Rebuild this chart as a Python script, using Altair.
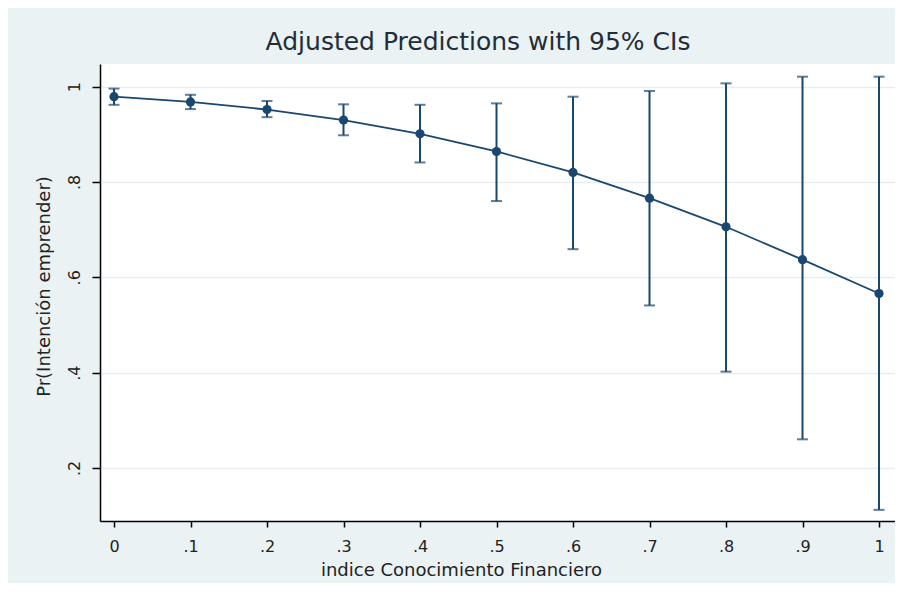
import altair as alt
import pandas as pd

# ---- data ----
x_vals = [0.0, 0.1, 0.2, 0.3, 0.4, 0.5, 0.6, 0.7, 0.8, 0.9, 1.0]
pred = [0.979, 0.968, 0.952, 0.930, 0.901, 0.864, 0.820, 0.766, 0.706, 0.637, 0.566]
ci_lo = [0.962, 0.953, 0.936, 0.898, 0.841, 0.760, 0.659, 0.541, 0.402, 0.260, 0.112]
ci_hi = [0.996, 0.983, 0.970, 0.963, 0.962, 0.965, 0.979, 0.991, 1.007, 1.021, 1.021]

x_ticks = [0.0, 0.1, 0.2, 0.3, 0.4, 0.5, 0.6, 0.7, 0.8, 0.9, 1.0]
x_tick_labels = ["0", ".1", ".2", ".3", ".4", ".5", ".6", ".7", ".8", ".9", "1"]
y_ticks = [0.2, 0.4, 0.6, 0.8, 1.0]
y_tick_labels = [".2", ".4", ".6", ".8", "1"]

title_text = "Adjusted Predictions with 95% CIs"
x_title = "indice Conocimiento Financiero"
y_title = "Pr(Intención emprender)"

df = pd.DataFrame({"x": x_vals, "y": pred, "lo": ci_lo, "hi": ci_hi})


def label_expr(values, labels):
    parts = [f"abs(datum.value - {v}) < 1e-6 ? '{l}'" for v, l in zip(values, labels)]
    return " : ".join(parts) + " : ''"


NAVY = "#1a476f"
FONT = "DejaVu Sans"
W, H = 795, 457

xscale = alt.Scale(domain=[-0.0183, 1.0209], nice=False, zero=False)
yscale = alt.Scale(domain=[0.0886, 1.0476], nice=False, zero=False)

xaxis = alt.Axis(
    values=x_ticks, labelExpr=label_expr(x_ticks, x_tick_labels),
    title=x_title, grid=False, tickSize=6, labelPadding=11,
    labelBaseline="top", labelFontSize=16, titleFontSize=18,
    titleX=361, titleY=54, titleAlign="center", titleBaseline="alphabetic",
    titleFontWeight="normal",
)
yaxis = alt.Axis(
    values=y_ticks, labelExpr=label_expr(y_ticks, y_tick_labels),
    title=y_title, grid=True, gridColor="#E6EEF1", gridWidth=1.5,
    tickSize=8, labelPadding=18, labelAngle=270, labelAlign="center",
    labelBaseline="middle", labelFontSize=16, titleFontSize=18,
    titleAngle=270, titleX=-56, titleY=222, titleAlign="center",
    titleBaseline="middle", titleFontWeight="normal",
)

base = alt.Chart(df)

rules = base.mark_rule(color=NAVY, strokeWidth=2).encode(
    x=alt.X("x:Q", scale=xscale, axis=xaxis),
    y=alt.Y("lo:Q", scale=yscale, axis=yaxis),
    y2="hi:Q",
)
cap_lo = base.mark_tick(color=NAVY, orient="horizontal", size=11, thickness=2).encode(
    x=alt.X("x:Q", scale=xscale), y=alt.Y("lo:Q", scale=yscale)
)
cap_hi = base.mark_tick(color=NAVY, orient="horizontal", size=11, thickness=2).encode(
    x=alt.X("x:Q", scale=xscale), y=alt.Y("hi:Q", scale=yscale)
)
line = base.mark_line(color=NAVY, strokeWidth=1.8).encode(
    x=alt.X("x:Q", scale=xscale), y=alt.Y("y:Q", scale=yscale)
)
points = base.mark_point(color=NAVY, filled=True, opacity=1, shape="circle", size=85).encode(
    x=alt.X("x:Q", scale=xscale), y=alt.Y("y:Q", scale=yscale)
)

title_df = pd.DataFrame({"t": [title_text]})
title = alt.Chart(title_df).mark_text(
    font=FONT, fontSize=25, color="#232c38", align="center", baseline="alphabetic"
).encode(x=alt.value(378), y=alt.value(-14), text="t:N")

chart = (
    alt.layer(rules, cap_lo, cap_hi, line, points, title)
    .properties(
        width=W, height=H,
        autosize=alt.AutoSizeParams(type="none"),
        padding={"left": 92, "top": 56, "right": 0, "bottom": 62},
        background="#EAF2F3",
    )
    .configure_view(fill="white", strokeWidth=0)
    .configure_axis(
        labelFont=FONT, titleFont=FONT, labelColor="#222222", titleColor="#222222",
        domainColor="#000000", domainWidth=1.5, tickColor="#000000", tickWidth=1.5,
    )
)

chart.save("out.html", embed_options={"renderer": "svg", "actions": False})
